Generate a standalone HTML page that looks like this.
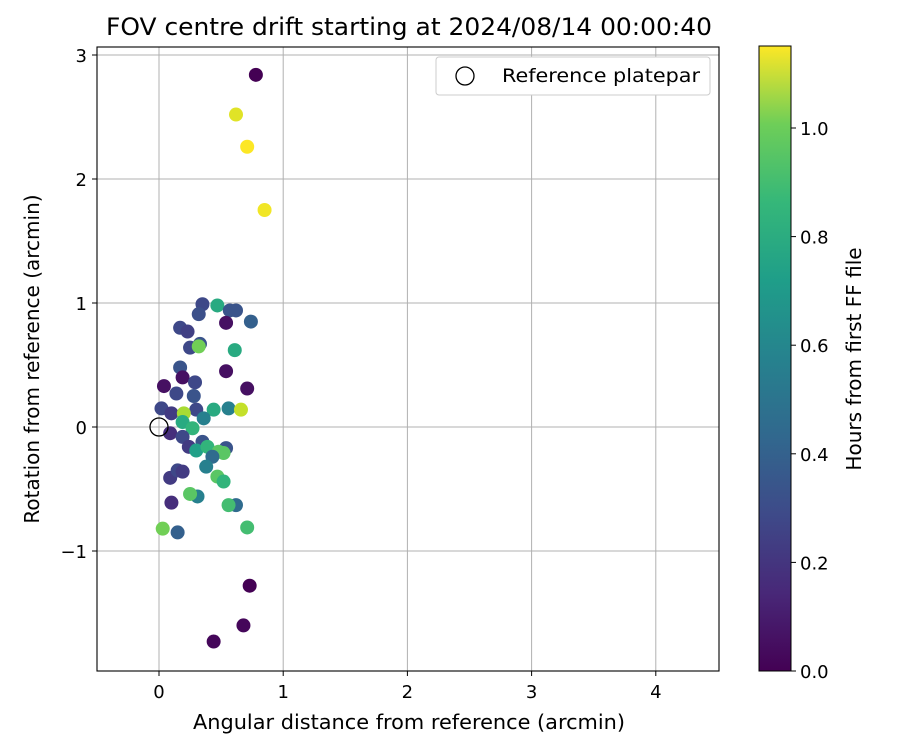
<!DOCTYPE html>
<html><head><meta charset="utf-8"><style>
body{margin:0;background:#fff;font-family:"DejaVu Sans","Liberation Sans",sans-serif}
svg text{font-family:"DejaVu Sans","Liberation Sans",sans-serif;fill:#000}
</style></head><body>
<svg id="chart" width="900" height="750" xmlns="http://www.w3.org/2000/svg">
<defs><linearGradient id="vir" x1="0" y1="1" x2="0" y2="0">
<stop offset="0" stop-color="#440154"/><stop offset="0.125" stop-color="#482878"/><stop offset="0.25" stop-color="#3e4a89"/><stop offset="0.375" stop-color="#31688e"/><stop offset="0.5" stop-color="#26828e"/><stop offset="0.625" stop-color="#1f9e89"/><stop offset="0.75" stop-color="#35b779"/><stop offset="0.875" stop-color="#6ece58"/><stop offset="1" stop-color="#fde725"/></linearGradient></defs>
<text x="409" y="35" font-size="24" text-anchor="middle" textLength="606" lengthAdjust="spacingAndGlyphs">FOV centre drift starting at 2024/08/14 00:00:40</text>
<g id="grid"></g>
<g id="points"></g>
<rect x="97" y="47" width="622" height="624" fill="none" stroke="#000" stroke-width="1.1"/>
<g id="axes"></g>
<text x="409" y="729" font-size="20" text-anchor="middle" textLength="432" lengthAdjust="spacingAndGlyphs">Angular distance from reference (arcmin)</text>
<text transform="translate(39,359) rotate(-90)" font-size="20" text-anchor="middle">Rotation from reference (arcmin)</text>
<g>
<rect x="436" y="57" width="274" height="38" rx="3" fill="#fff" stroke="#ccc"/>
<circle cx="465" cy="76" r="9" fill="none" stroke="#000" stroke-width="1.3"/>
<text x="502" y="82" font-size="19" textLength="198" lengthAdjust="spacingAndGlyphs">Reference platepar</text>
</g>
<rect x="759" y="46" width="32" height="625" fill="url(#vir)" stroke="#000" stroke-width="1"/>
<g id="cbar"></g>
<text transform="translate(861,359) rotate(-90)" font-size="20" text-anchor="middle">Hours from first FF file</text>
</svg>
<script>
const xs=[0.78,0.62,0.71,0.85,0.35,0.47,0.57,0.62,0.54,0.74,0.17,0.23,0.32,0.33,0.25,0.32,0.61,0.17,0.54,0.19,0.04,0.71,0.29,0.14,0.28,0.02,0.44,0.56,0.66,0.30,0.10,0.20,0.36,0.19,0.27,0.09,0.19,0.24,0.35,0.30,0.39,0.54,0.48,0.52,0.43,0.38,0.47,0.52,0.09,0.15,0.19,0.31,0.25,0.62,0.56,0.10,0.03,0.15,0.71,0.73,0.68,0.44];
const ys=[2.84,2.52,2.26,1.75,0.99,0.98,0.94,0.94,0.84,0.85,0.80,0.77,0.91,0.67,0.64,0.65,0.62,0.48,0.45,0.40,0.33,0.31,0.36,0.27,0.25,0.15,0.14,0.15,0.14,0.14,0.11,0.11,0.07,0.04,-0.01,-0.05,-0.08,-0.16,-0.12,-0.19,-0.16,-0.17,-0.20,-0.21,-0.24,-0.32,-0.40,-0.44,-0.41,-0.35,-0.36,-0.56,-0.54,-0.63,-0.63,-0.61,-0.82,-0.85,-0.81,-1.28,-1.60,-1.73];
const hours=[0.0,1.1,1.15,1.13,0.25,0.7,0.3,0.3,0.05,0.35,0.25,0.22,0.28,0.3,0.25,0.9,0.7,0.3,0.05,0.05,0.05,0.05,0.25,0.25,0.3,0.25,0.7,0.5,1.05,0.25,0.2,1.0,0.5,0.7,0.75,0.15,0.25,0.2,0.3,0.65,0.75,0.3,0.85,0.85,0.4,0.5,0.85,0.75,0.2,0.25,0.2,0.5,0.85,0.4,0.8,0.15,0.9,0.35,0.8,0.0,0.02,0.02];
const xTicks=[0,1,2,3,4];
const yTicks=[-1,0,1,2,3];
const cTicks=[0.0,0.2,0.4,0.6,0.8,1.0];
const X=v=>159+v*124.2, Y=v=>427-v*124, C=v=>671-v*543;
const V=[[68,1,84],[72,40,120],[62,74,137],[49,104,142],[38,130,142],[31,158,137],[53,183,121],[110,206,88],[181,222,43],[253,231,37]];
function vir(h){let t=Math.max(0,Math.min(1,h/1.151))*9,i=Math.min(8,Math.floor(t)),f=t-i;const a=V[i],b=V[i+1];return`rgb(${a.map((c,k)=>Math.round(c+(b[k]-c)*f)).join(',')})`;}
const NS='http://www.w3.org/2000/svg';
function mk(p,tag,at){const e=document.createElementNS(NS,tag);for(const k in at)e.setAttribute(k,at[k]);p.appendChild(e);return e;}
const g=document.getElementById('grid'),ax=document.getElementById('axes'),pts=document.getElementById('points'),cb=document.getElementById('cbar');
xTicks.forEach(v=>{const x=X(v);
const l=mk(g,'line',{x1:x,x2:x,y1:47,y2:671,stroke:'#b0b0b0','stroke-width':1});


mk(ax,'line',{x1:x,x2:x,y1:671,y2:676,stroke:'#000'});
const t=mk(ax,'text',{x:x,y:698,'font-size':18,'text-anchor':'middle'});t.textContent=v;

});
yTicks.forEach(v=>{const y=Y(v);
const l=mk(g,'line',{x1:97,x2:719,y1:y,y2:y,stroke:'#b0b0b0','stroke-width':1});


mk(ax,'line',{x1:92,x2:97,y1:y,y2:y,stroke:'#000'});
const t=mk(ax,'text',{x:87,y:y+7,'font-size':18,'text-anchor':'end'});t.textContent=v<0?'\u2212'+(-v):v;

});
xs.forEach((x,i)=>{const c=mk(pts,'circle',{cx:X(x),cy:Y(ys[i]),r:7,fill:vir(hours[i])});

});
const ref=mk(pts,'circle',{cx:X(0),cy:Y(0),r:9,fill:'none',stroke:'#000','stroke-width':1.3});


cTicks.forEach(v=>{const y=C(v);
mk(cb,'line',{x1:791,x2:796,y1:y,y2:y,stroke:'#000'});
const t=mk(cb,'text',{x:800,y:y+7,'font-size':18});t.textContent=v.toFixed(1);

});
</script>
</body></html>
